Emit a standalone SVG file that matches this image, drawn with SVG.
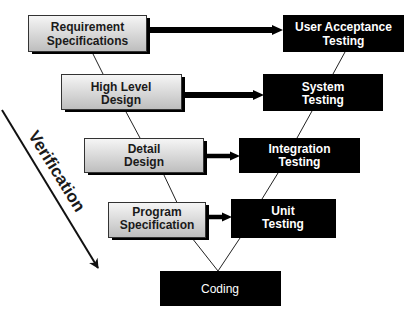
<svg xmlns="http://www.w3.org/2000/svg" width="419" height="312" viewBox="0 0 419 312">
<defs>
<linearGradient id="g" x1="0" y1="0" x2="0" y2="1">
<stop offset="0" stop-color="#f6f6f6"/>
<stop offset="1" stop-color="#bdbdbd"/>
</linearGradient>
<marker id="ah" viewBox="0 0 10 10" refX="9" refY="5" markerWidth="5" markerHeight="5" orient="auto" markerUnits="strokeWidth">
<path d="M0,0 L10,5 L0,10 L3,5 Z" fill="#111"/>
</marker>
</defs>
<style>
.lt{fill:url(#g);stroke:#333;stroke-width:1}
.sh{fill:#000}
.dk{fill:#000}
.t{font-family:"Liberation Sans",Arial,sans-serif;font-size:12px;font-weight:bold;text-anchor:middle}
.tl{fill:#1a1a1a}
.tw{fill:#fff}
.ln{stroke:#222;stroke-width:1;fill:none}
.ar{stroke:#000;fill:none}
.hd{fill:#000}
</style>
<rect width="419" height="312" fill="#fff"/>
<g id="connectors">
<line class="ln" x1="92" y1="52" x2="103" y2="74"/>
<line class="ln" x1="125" y1="110" x2="140" y2="138"/>
<line class="ln" x1="163" y1="173" x2="190" y2="230"/>
<line class="ln" x1="192" y1="238" x2="218" y2="271"/>
<line class="ln" x1="345" y1="52" x2="333" y2="74"/>
<line class="ln" x1="312" y1="111" x2="297" y2="138"/>
<line class="ln" x1="278" y1="173" x2="262" y2="199"/>
<line class="ln" x1="240" y1="238" x2="218" y2="271"/>
<line class="ar" stroke-width="6" x1="150" y1="30" x2="274" y2="30"/>
<path class="hd" d="M272,25 L283,30 L272,35 Z"/>
<line class="ar" stroke-width="6" x1="183" y1="95" x2="255" y2="95"/>
<path class="hd" d="M253,90 L264,95 L253,100 Z"/>
<line class="ar" stroke-width="4.5" x1="206" y1="156" x2="232" y2="156"/>
<path class="hd" d="M230,151.5 L240,156 L230,160.5 Z"/>
<line class="ar" stroke-width="4.5" x1="209" y1="217" x2="224" y2="217"/>
<path class="hd" d="M222,212.5 L232,217 L222,221.5 Z"/>
<line stroke="#111" stroke-width="2" x1="2" y1="110" x2="98" y2="268" marker-end="url(#ah)"/>
</g>
<g id="verification">
<text class="t tl" transform="translate(57,171) rotate(58)" y="6" style="font-size:17px">Verification</text>
</g>
<g id="req">
<rect class="sh" x="32" y="18" width="118" height="36"/>
<rect class="lt" x="28.5" y="15.5" width="118" height="36"/>
<text class="t tl" x="87.5" y="31">Requirement</text>
<text class="t tl" x="87.5" y="45">Specifications</text>
</g>
<g id="hld">
<rect class="sh" x="65" y="77" width="120" height="35"/>
<rect class="lt" x="61.5" y="74.5" width="120" height="35"/>
<text class="t tl" x="121" y="91">High Level</text>
<text class="t tl" x="121" y="104">Design</text>
</g>
<g id="detail">
<rect class="sh" x="88" y="141" width="119" height="34"/>
<rect class="lt" x="84.5" y="138.5" width="119" height="34"/>
<text class="t tl" x="144" y="153">Detail</text>
<text class="t tl" x="144" y="166">Design</text>
</g>
<g id="prog">
<rect class="sh" x="112" y="205" width="97" height="35"/>
<rect class="lt" x="108.5" y="202.5" width="97" height="35"/>
<text class="t tl" x="157" y="216">Program</text>
<text class="t tl" x="157" y="229">Specification</text>
</g>
<g id="uat">
<rect class="dk" x="283" y="15" width="121" height="37"/>
<text class="t tw" x="343.5" y="31">User Acceptance</text>
<text class="t tw" x="343.5" y="45">Testing</text>
</g>
<g id="sys">
<rect class="dk" x="263" y="74" width="120" height="37"/>
<text class="t tw" x="323" y="91">System</text>
<text class="t tw" x="323" y="104">Testing</text>
</g>
<g id="int">
<rect class="dk" x="239" y="138" width="121" height="35"/>
<text class="t tw" x="299.5" y="153">Integration</text>
<text class="t tw" x="299.5" y="166">Testing</text>
</g>
<g id="unit">
<rect class="dk" x="231" y="199" width="105" height="39"/>
<text class="t tw" x="283" y="215">Unit</text>
<text class="t tw" x="283" y="228">Testing</text>
</g>
<g id="coding">
<rect class="dk" x="160" y="271" width="121" height="35"/>
<text class="t tw" x="220" y="293" style="font-weight:normal">Coding</text>
</g>
</svg>
